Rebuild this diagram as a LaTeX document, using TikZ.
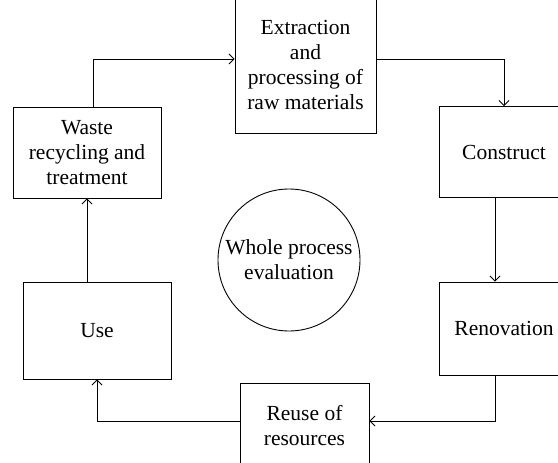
\documentclass[tikz,border=0pt]{standalone}
\usepackage{fontspec}
\setmainfont{Liberation Serif}
\usetikzlibrary{arrows.meta}
\tikzset{
  >={Straight Barb[width=10pt,length=5pt]},
  % Specifications for style of nodes:
       base/.style = {rectangle, draw=black, line width=0.9pt, inner sep=0pt,
                      align=center, font=\fontsize{21.5}{25}\selectfont},
      stage/.style = {base, minimum width=148pt, minimum height=91pt},
  rightstage/.style = {base, minimum width=130pt, minimum height=91pt},
   evaluate/.style = {base, circle, minimum size=142pt},
}

\begin{document}
\begin{tikzpicture}[x=1pt, y=-1pt, line width=0.9pt]
    \useasboundingbox (0,0) rectangle (558,463);
    % Specification of nodes (position, etc.)
    \node (extraction) [base, minimum width=141pt, minimum height=136pt] at (305.5,65)
                          {Extraction\\and\\processing of\\raw materials};
    \node (construct)  [rightstage] at (504,152)            {Construct};
    \node (renovation) [rightstage, minimum height=93pt] at (504,328.5)
                                                           {Renovation};
    \node (reuse)      [base, minimum width=129pt, minimum height=86pt] at (304.5,426)
                                                  {Reuse of\\resources};
    \node (use)        [stage, minimum height=97pt] at (97,330.5)   {Use};
    \node (waste)      [stage] at (87,152.5)
                                 {Waste\\recycling and\\treatment};
    \node (evaluation) [evaluate] at (289,260)   {Whole process\\evaluation};

    % Specification of lines between nodes specified above
    \draw[->] ([xshift=6pt]waste.north) |- ([yshift=6pt]extraction.west);
    \draw[->] ([yshift=6pt]extraction.east) -| (construct.north);
    \draw[->] ([xshift=-9pt]construct.south) -- ([xshift=-9pt]renovation.north);
    \draw[->] ([xshift=-9pt]renovation.south) |- ([yshift=5pt]reuse.east);
    \draw[->] ([yshift=5pt]reuse.west) -| (use.south);
    \draw[->] (waste.south |- use.north) -- (waste.south);
\end{tikzpicture}
\end{document}
